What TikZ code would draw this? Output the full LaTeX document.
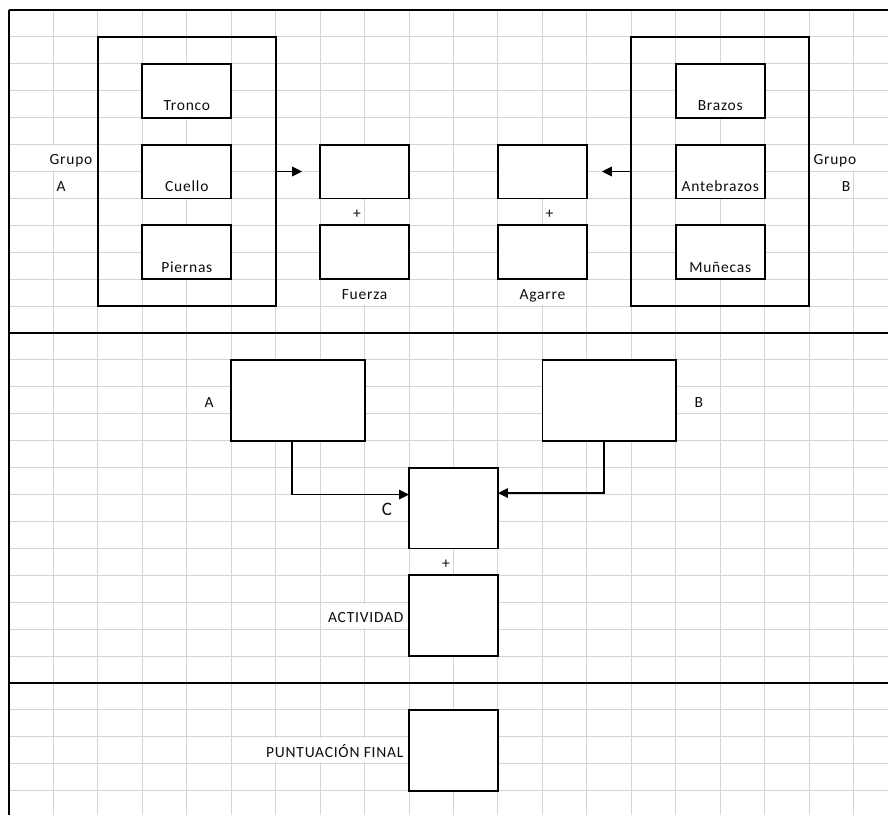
\documentclass[tikz,border=0pt]{standalone}
\usepackage{fontspec}
\usepackage{tikz}
\usetikzlibrary{arrows.meta}
\setmainfont{Carlito}[LetterSpace=5]
\definecolor{cellgrid}{HTML}{D4D4D4}
\definecolor{ink}{HTML}{0D0D0D}
\tikzset{
  sheet/.style={x=44.45pt, y=-26.92pt},
  gridline/.style={draw=cellgrid, line width=1pt},
  sepline/.style={draw=black, line width=1.6pt},
  cells/.style 2 args={minimum width=#1*44.45pt, minimum height=#2*26.92pt},
  box/.style={draw, rectangle, line width=1.8pt, fill=white, outer sep=0pt, inner sep=0pt},
  frame/.style={box, fill=none},
  txt/.style={fill=white, text=ink, inner xsep=1pt, inner ysep=0pt, text height=18.9pt, text depth=5.4pt,
    font=\fontsize{15.5}{18}\selectfont, anchor=base},
  rtxt/.style={txt, anchor=base east},
  plustxt/.style={txt, fill=none},
  bigtxt/.style={txt, font=\fontsize{19}{22}\selectfont},
  arr/.style={-{Triangle[length=10pt, width=9.5pt]}, line width=1.8pt}
}

\begin{document}
\begin{tikzpicture}[sheet]
\useasboundingbox (-9pt,10pt) rectangle (879pt,-805pt);
% hoja de calculo
\foreach \k in {1,...,19} \draw[gridline] (\k,0) -- (\k,29.903);
\foreach \r in {1,...,29} \draw[gridline] (0,\r) -- (19.775,\r);
\draw[sepline] (0,0) -- (19.775,0);
\draw[sepline] (0,12) -- (19.775,12);
\draw[sepline] (0,25) -- (19.775,25);
\draw[sepline] (0,0) -- (0,29.903);

% grupo A
\node[frame, cells={4}{10}] (grpA) at (4,6) {};
\node[box, cells={2}{2}] (tronco) at (4,3) {};
\node[box, cells={2}{2}] (cuello) at (4,6) {};
\node[box, cells={2}{2}] (piernas) at (4,9) {};
\node[txt] (tTronco) at (4,3.75) {Tronco};
\node[txt] (tCuello) at (4,6.75) {Cuello};
\node[txt] (tPiernas) at (4,9.75) {Piernas};
\node[txt] (tGrupoA) at (1.395,5.75) {Grupo};
\node[txt] (tA) at (1.17,6.75) {A};

% fuerza y agarre
\node[box, cells={2}{2}] (fzaTop) at (8,6) {};
\node[box, cells={2}{2}] (fzaBot) at (8,9) {};
\node[plustxt] (plusF) at (7.83,7.75) {+};
\node[txt] (tFuerza) at (8,10.75) {Fuerza};
\node[box, cells={2}{2}] (agrTop) at (12,6) {};
\node[box, cells={2}{2}] (agrBot) at (12,9) {};
\node[plustxt] (plusG) at (12.16,7.75) {+};
\node[txt] (tAgarre) at (12,10.75) {Agarre};

% grupo B
\node[frame, cells={4}{10}] (grpB) at (16,6) {};
\node[box, cells={2}{2}] (brazos) at (16,3) {};
\node[box, cells={2}{2}] (antebr) at (16,6) {};
\node[box, cells={2}{2}] (munecas) at (16,9) {};
\node[txt] (tBrazos) at (16,3.75) {Brazos};
\node[txt] (tAntebr) at (16,6.75) {Antebrazos};
\node[txt] (tMunecas) at (16,9.75) {Muñecas};
\node[txt] (tGrupoB) at (18.58,5.75) {Grupo};
\node[txt] (tB) at (18.83,6.75) {B};

% tabla C
\node[box, cells={3}{3}] (boxA) at (6.5,14.5) {};
\node[box, cells={3}{3}] (boxB) at (13.5,14.5) {};
\node[box, cells={2}{3}] (boxC) at (10,18.5) {};
\node[box, cells={2}{3}] (boxAct) at (10,22.5) {};
\node[txt] (tBoxA) at (4.5,14.75) {A};
\node[txt] (tBoxB) at (15.52,14.75) {B};
\node[bigtxt] (tC) at (8.5,18.78) {C};
\node[plustxt] (plusC) at (9.83,20.75) {+};
\node[rtxt] (tAct) at (8.9,22.75) {ACTIVIDAD};

% final
\node[box, cells={2}{3}] (boxFin) at (10,27.5) {};
\node[rtxt] (tFin) at (8.9,27.75) {PUNTUACIÓN FINAL};

\draw[arr, shorten >=18pt] (grpA.east) -- (fzaTop.west);
\draw[arr, shorten >=15pt] (grpB.west) -- (agrTop.east);
\draw[arr] ([xshift=-5.8pt]boxA.south) |- ([yshift=13.5pt]boxC.west);
\draw[arr] ([xshift=-5pt]boxB.south) |- ([yshift=15pt]boxC.east);
\end{tikzpicture}
\end{document}
